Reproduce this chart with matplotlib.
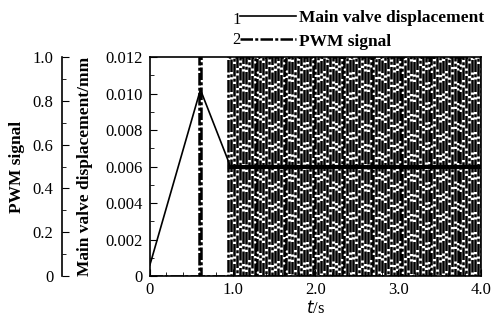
import numpy as np
import matplotlib.pyplot as plt
from matplotlib.ticker import MultipleLocator

plt.rcParams['font.family'] = ['Liberation Serif', 'DejaVu Serif']

# main valve displacement (mm)
t_disp = [0.0, 0.02, 0.61, 0.63, 0.94, 0.97, 4.0]
disp = [0.0006, 0.0009, 0.0102, 0.0100, 0.0064, 0.0060, 0.0060]

# PWM signal: single pulse, then switching from t_pwm_start on
pulse_on, pulse_off = 0.60, 0.62
t_pwm_start = 0.95
pwm_period = 0.07   # carrier period, s
pwm_duty = 0.5

edges = np.arange(t_pwm_start, 4.0, pwm_period)
t_pwm = [0.0, pulse_on, pulse_on, pulse_off, pulse_off]
pwm = [0, 0, 1, 1, 0]
for e in edges:
    e2 = e + pwm_duty * pwm_period
    t_pwm += [e, e, e2, e2]
    pwm += [0, 1, 1, 0]
t_pwm.append(4.0)
pwm.append(0)

xticks = [0, 1.0, 2.0, 3.0, 4.0]
xlabels = ['0', '1.0', '2.0', '3.0', '4.0']
yticks = [0, 0.002, 0.004, 0.006, 0.008, 0.010, 0.012]
ylabels = ['0', '0.002', '0.004', '0.006', '0.008', '0.010', '0.012']
pticks = [0, 0.2, 0.4, 0.6, 0.8, 1.0]
plabels = ['0', '0.2', '0.4', '0.6', '0.8', '1.0']

fig = plt.figure(figsize=(4.96, 3.21), dpi=100)
ax = fig.add_axes([0.302, 0.140, 0.668, 0.682])
ax2 = ax.twinx()

l2, = ax2.plot(t_pwm, pwm, color='k', lw=1.8, ls=(0, (5, 0.9, 1.2, 0.9)))
l1, = ax.plot(t_disp, disp, color='k', lw=1.2)
ax.plot([0.97, 4.0], [0.006, 0.006], color='k', lw=3)

ax.set_xlim(0, 4.0)
ax.set_ylim(0, 0.012)
ax2.set_ylim(0, 1.0)
ax.set_xticks(xticks)
ax.set_xticklabels(xlabels)
ax.set_yticks(yticks)
ax.set_yticklabels(ylabels)
ax.xaxis.set_minor_locator(MultipleLocator(0.2))
ax.yaxis.set_minor_locator(MultipleLocator(0.001))
ax.tick_params(which='both', direction='in', labelsize=12, top=False, right=False)
ax.tick_params(axis='y', pad=5)
ax.tick_params(axis='x', pad=4)
ax.tick_params(which='major', length=5)
ax.tick_params(which='minor', length=3)
for s in ax.spines.values():
    s.set_linewidth(1.2)

ax2.yaxis.set_ticks_position('left')
ax2.yaxis.set_label_position('left')
ax2.spines['left'].set_position(('axes', -0.266))
for k in ['right', 'top', 'bottom']:
    ax2.spines[k].set_visible(False)
ax2.spines['left'].set_linewidth(1.2)
ax2.set_yticks(pticks)
ax2.set_yticklabels(plabels)
ax2.yaxis.set_minor_locator(MultipleLocator(0.1))
ax2.tick_params(which='both', direction='in', labelsize=12, pad=6)
ax2.tick_params(which='major', length=5)
ax2.tick_params(which='minor', length=3)

ax.set_xlabel('$t$/s', fontsize=12, labelpad=2)
ax.set_ylabel('Main valve displacement/mm', fontsize=12.5, fontweight='bold')
ax.yaxis.set_label_coords(-0.172, 0.5)
ax2.set_ylabel('PWM signal', fontsize=12.5, fontweight='bold')
ax2.yaxis.set_label_coords(-0.378, 0.5)

leg = fig.legend([l1, l2], ['Main valve displacement', 'PWM signal'],
                 loc='upper left', bbox_to_anchor=(0.484, 0.968), frameon=False,
                 borderpad=0, borderaxespad=0,
                 handlelength=3.2, handletextpad=0.2, labelspacing=0.4,
                 prop={'size': 12.5, 'weight': 'bold'})
fig.text(0.468, 0.938, '1', fontsize=12, ha='left', va='center')
fig.text(0.468, 0.876, '2', fontsize=12, ha='left', va='center')

fig.savefig('out.png', dpi=100)
